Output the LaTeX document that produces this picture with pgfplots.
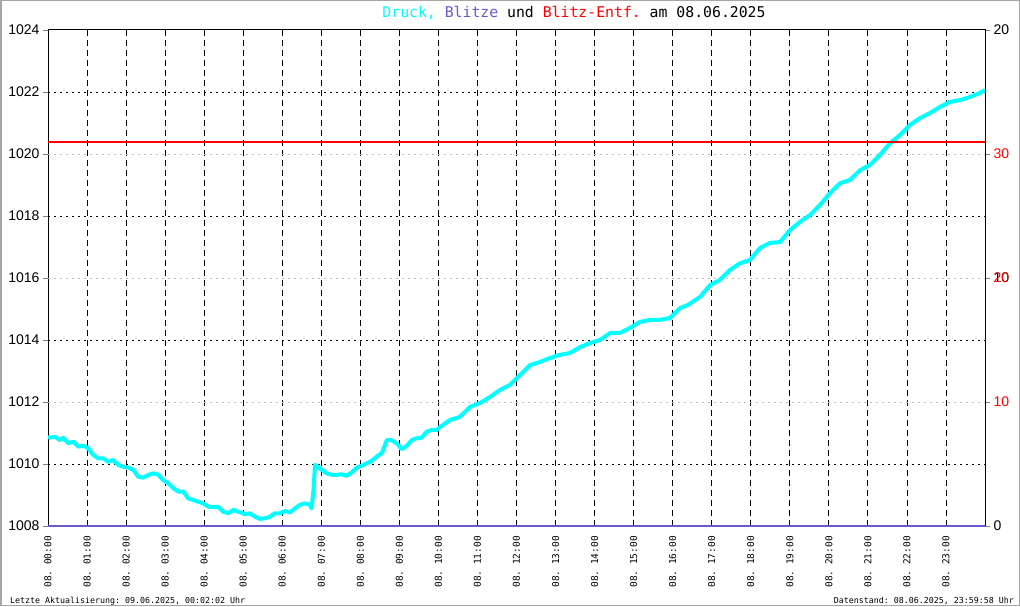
\documentclass[border=0pt]{standalone}
\usepackage{pgfplots}
\pgfplotsset{compat=1.18}
\usepackage{fontspec}
\setmainfont{Liberation Sans}
\newfontfamily\mono{DejaVu Sans Mono}
\definecolor{druck}{RGB}{0,255,255}
\definecolor{blitze}{RGB}{106,90,205}
\frenchspacing

\begin{document}
\begin{tikzpicture}[x=1pt,y=1pt]
\path[use as bounding box] (0,0) rectangle (1020,606);
\fill[white] (0,0) rectangle (1020,606);
\draw[gray!70, line width=1.5pt] (0.75,0.75) rectangle (1019.25,605.25);

\pgfplotsset{base/.style={scale only axis, width=937pt, height=496pt,
  at={(48pt,80pt)}, anchor=south west, xmin=0, xmax=24,
  tick align=outside, major tick length=5pt,
  yticklabel style={font=\fontsize{14}{16}\selectfont}}}

% pressure axis
\begin{axis}[base, ymin=1008, ymax=1024,
  axis line style={black, line width=1pt},
  xtick={0,...,23},
  xticklabels={08. 00:00,08. 01:00,08. 02:00,08. 03:00,08. 04:00,08. 05:00,
    08. 06:00,08. 07:00,08. 08:00,08. 09:00,08. 10:00,08. 11:00,08. 12:00,
    08. 13:00,08. 14:00,08. 15:00,08. 16:00,08. 17:00,08. 18:00,08. 19:00,
    08. 20:00,08. 21:00,08. 22:00,08. 23:00},
  xtick style={draw=none},
  xticklabel style={font=\mono\fontsize{9.5}{10}\selectfont, rotate=90, anchor=east, inner sep=0pt},
  xticklabel shift=5pt,
  ytick={1008,1010,...,1024},
  yticklabels={1008,1010,1012,1014,1016,1018,1020,1022,1024},
  ytick pos=left]
\pgfplotsinvokeforeach{1,...,23}{
  \draw[black, line width=0.8pt, dash pattern=on 6pt off 4pt] (axis cs:#1,1008) -- (axis cs:#1,1024);}
\pgfplotsinvokeforeach{1010,1014,1018,1022}{
  \draw[black, line width=0.8pt, dash pattern=on 2pt off 4pt] (axis cs:0,#1) -- (axis cs:24,#1);}
\pgfplotsinvokeforeach{1012,1016,1020}{
  \draw[gray!55, line width=0.8pt, dash pattern=on 2pt off 4pt] (axis cs:0,#1) -- (axis cs:24,#1);}

\addplot[druck, line width=4pt, line join=round] coordinates {
(0,1010.87) (0.05,1010.85) (0.18,1010.88) (0.31,1010.77) (0.39,1010.85) (0.52,1010.67)
(0.65,1010.72) (0.78,1010.56) (0.90,1010.59) (1.03,1010.51) (1.16,1010.29) (1.29,1010.18)
(1.42,1010.18) (1.54,1010.07) (1.67,1010.13) (1.80,1009.97) (1.93,1009.91) (2.06,1009.88)
(2.19,1009.81) (2.31,1009.59) (2.44,1009.56) (2.57,1009.65) (2.70,1009.70) (2.83,1009.65)
(2.95,1009.48) (3.08,1009.38) (3.21,1009.22) (3.34,1009.11) (3.47,1009.11) (3.59,1008.89)
(3.72,1008.84) (3.85,1008.78) (3.98,1008.73) (4.11,1008.62) (4.23,1008.62) (4.36,1008.62)
(4.49,1008.46) (4.62,1008.41) (4.75,1008.52) (4.87,1008.46) (5.00,1008.41) (5.05,1008.38)
(5.17,1008.41) (5.30,1008.30) (5.43,1008.23) (5.56,1008.25) (5.69,1008.30) (5.81,1008.41)
(5.94,1008.41) (6.07,1008.48) (6.20,1008.44) (6.33,1008.57) (6.45,1008.68) (6.58,1008.73)
(6.71,1008.68) (6.75,1008.57) (6.80,1009.16) (6.84,1009.97) (6.92,1009.91) (7.01,1009.81)
(7.14,1009.70) (7.27,1009.65) (7.40,1009.65) (7.52,1009.67) (7.65,1009.62) (7.78,1009.73)
(7.91,1009.88) (8.04,1009.95) (8.16,1010.02) (8.29,1010.10) (8.42,1010.24) (8.55,1010.35)
(8.68,1010.77) (8.80,1010.77) (8.93,1010.67) (9.06,1010.48) (9.19,1010.59) (9.32,1010.77)
(9.44,1010.83) (9.57,1010.85) (9.70,1011.04) (9.83,1011.10) (9.96,1011.10) (10.04,1011.19)
(10.30,1011.42) (10.55,1011.52) (10.81,1011.84) (11.07,1011.97) (11.32,1012.16)
(11.58,1012.39) (11.83,1012.55) (12.09,1012.87) (12.35,1013.19) (12.60,1013.29) (12.86,1013.42)
(13.11,1013.52) (13.37,1013.58) (13.63,1013.77) (13.88,1013.90) (14.14,1014.00) (14.40,1014.23)
(14.65,1014.23) (14.91,1014.39) (15.16,1014.58) (15.42,1014.65) (15.68,1014.65) (15.93,1014.71)
(16.19,1015.03) (16.39,1015.13) (16.70,1015.39) (16.96,1015.77) (17.21,1015.94) (17.47,1016.26)
(17.73,1016.48) (17.98,1016.58) (18.24,1016.97) (18.49,1017.13) (18.75,1017.16) (19.01,1017.55)
(19.26,1017.81) (19.52,1018.03) (19.77,1018.35) (20.03,1018.74) (20.29,1019.06) (20.54,1019.16)
(20.80,1019.48) (21.06,1019.65) (21.31,1019.97) (21.57,1020.35) (21.82,1020.61) (22.08,1020.94)
(22.34,1021.16) (22.59,1021.32) (22.85,1021.52) (23.10,1021.68) (23.36,1021.74) (23.62,1021.84)
(23.87,1021.97) (24,1022.06)};
\addplot[red, line width=2pt] coordinates {(0,1020.40) (24,1020.40)};
\addplot[blitze, line width=3pt] coordinates {(0,1008) (24,1008)};
\end{axis}

% lightning count axis
\begin{axis}[base, ymin=0, ymax=20, hide x axis,
  axis y line*=right, axis line style={black, line width=1pt},
  ytick={0,10,20}, yticklabels={0,10,20}]
\end{axis}

% lightning distance axis
\begin{axis}[base, ymin=0, ymax=40, hide x axis,
  axis y line*=right, axis line style={black, line width=1pt},
  ytick={10,20,30}, yticklabels={10,20,30},
  yticklabel style={text=red}]
\end{axis}

\node[anchor=base, font=\mono\fontsize{14.8}{16}\selectfont] at (574,588)
  {\textcolor{druck}{Druck,} \textcolor{blitze}{Blitze} und \textcolor{red}{Blitz-Entf.} am 08.06.2025};
\node[anchor=base west, font=\mono\fontsize{8.3}{9}\selectfont, inner sep=0pt] at (10,3)
  {Letzte Aktualisierung: 09.06.2025, 00:02:02 Uhr};
\node[anchor=base east, font=\mono\fontsize{8.3}{9}\selectfont, inner sep=0pt] at (1014,3)
  {Datenstand: 08.06.2025, 23:59:58 Uhr};
\end{tikzpicture}
\end{document}
